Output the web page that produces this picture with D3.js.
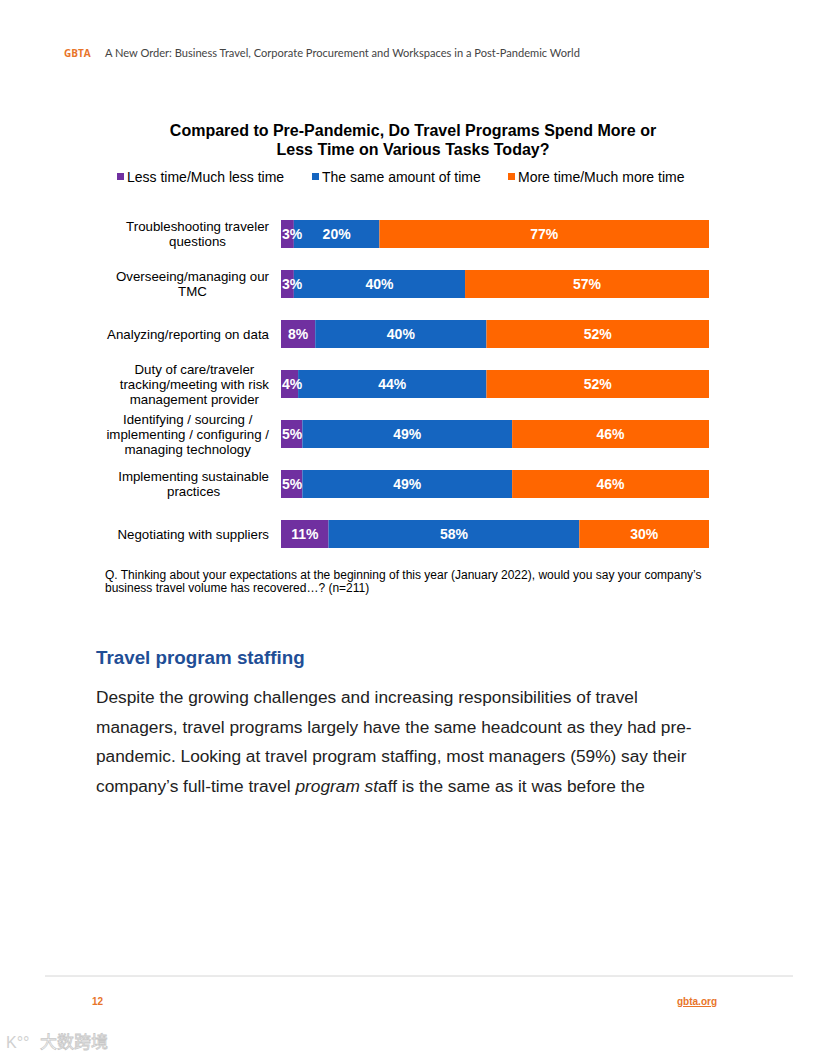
<!DOCTYPE html>
<html>
<head>
<meta charset="utf-8">
<script src="https://cdn.jsdelivr.net/npm/d3@7"></script>
<style>
  body { margin: 0; background: #fff; }
  svg { display: block; }
</style>
</head>
<body>
<svg id="page" width="816" height="1056"></svg>
<script>
const categories = [
  "Troubleshooting traveler\nquestions",
  "Overseeing/managing our\nTMC",
  "Analyzing/reporting on data",
  "Duty of care/traveler\ntracking/meeting with risk\nmanagement provider",
  "Identifying / sourcing /\nimplementing / configuring /\nmanaging technology",
  "Implementing sustainable\npractices",
  "Negotiating with suppliers",
];
const seriesNames = ["Less time/Much less time", "The same amount of time", "More time/Much more time"];
const lessTime = [3, 3, 8, 4, 5, 5, 11];
const sameTime = [20, 40, 40, 44, 49, 49, 58];
const moreTime = [77, 57, 52, 52, 46, 46, 30];
const seriesColors = ["#7030a0", "#1565c0", "#ff6600"];

const bodyLines = [
  "Despite the growing challenges and increasing responsibilities of travel",
  "managers, travel programs largely have the same headcount as they had pre-",
  "pandemic. Looking at travel program staffing, most managers (59%) say their",
];

const svg = d3.select("#page");
const sans = "'Liberation Sans', Arial, sans-serif";

// page header
svg.append("text").attr("x", 64).attr("y", 57)
  .attr("font-family", "'Open Sans', sans-serif").attr("font-weight", 700)
  .attr("font-size", 10).attr("fill", "#e8742a").text("GBTA");
svg.append("text").attr("x", 105).attr("y", 57)
  .attr("font-family", "Lato, sans-serif").attr("font-size", 11.1)
  .attr("fill", "#444").text("A New Order: Business Travel, Corporate Procurement and Workspaces in a Post-Pandemic World");

// chart title
const title = svg.append("text").attr("text-anchor", "middle")
  .attr("font-family", sans).attr("font-weight", 700).attr("font-size", 16).attr("fill", "#000");
title.append("tspan").attr("x", 413).attr("y", 136).text("Compared to Pre-Pandemic, Do Travel Programs Spend More or");
title.append("tspan").attr("x", 413).attr("y", 155).text("Less Time on Various Tasks Today?");

// legend
const legendX = [117, 312, 508];
const legend = svg.append("g").selectAll("g").data(seriesNames).enter().append("g")
  .attr("transform", (d, i) => `translate(${legendX[i]},177)`);
legend.append("rect").attr("y", -4).attr("width", 7).attr("height", 7)
  .attr("fill", (d, i) => seriesColors[i]);
legend.append("text").attr("x", 10).attr("y", 5)
  .attr("font-family", sans).attr("font-size", 14).attr("fill", "#000").text((d) => d);

// stacked bars (each row filled to 100%, as in the source chart)
const rows = categories.map((c, i) => ({ cat: c, vals: [lessTime[i], sameTime[i], moreTime[i]] }));
const x = d3.scaleLinear().domain([0, 1]).range([281, 709]);
const y = d3.scaleBand().domain(categories).range([209, 559]).paddingInner(0.44).paddingOuter(0.22);

const stack = d3.stack().keys([0, 1, 2]).value((d, k) => d.vals[k]).offset(d3.stackOffsetExpand);
const layers = stack(rows);

const plot = svg.append("g");
const barLayer = plot.append("g");
const labelLayer = plot.append("g");
layers.forEach((layer, k) => {
  barLayer.append("g").selectAll("rect").data(layer).enter().append("rect")
    .attr("x", (d) => x(d[0]))
    .attr("y", (d) => y(d.data.cat))
    .attr("width", (d) => x(d[1]) - x(d[0]))
    .attr("height", y.bandwidth())
    .attr("fill", seriesColors[k]);
  labelLayer.append("g").selectAll("text").data(layer).enter().append("text")
    .attr("y", (d) => y(d.data.cat) + y.bandwidth() / 2 + 5)
    .attr("text-anchor", "middle")
    .attr("font-family", sans).attr("font-weight", 700).attr("font-size", 14)
    .attr("fill", "#fff")
    .text((d) => `${d.data.vals[k]}%`)
    .attr("x", function (d) {
      const tw = this.getComputedTextLength();
      const cx = (x(d[0]) + x(d[1])) / 2;
      return Math.max(cx, x(0) + tw / 2 + 1);
    });
});

// category axis labels
const axisRight = 269;
categories.forEach((c) => {
  const lines = c.split("\n");
  const t = svg.append("text").attr("text-anchor", "middle")
    .attr("font-family", sans).attr("font-size", 13.3).attr("fill", "#000");
  const spans = lines.map((l) => t.append("tspan").text(l));
  const w = d3.max(spans, (s) => s.node().getComputedTextLength());
  const cx = axisRight - w / 2;
  const lh = 15;
  const cy = y(c) + y.bandwidth() / 2;
  spans.forEach((s, i) => s.attr("x", cx).attr("y", cy + 4.5 + (i - (lines.length - 1) / 2) * lh));
});

// footnote
const note = svg.append("text").attr("font-family", sans).attr("font-size", 12).attr("fill", "#000");
note.append("tspan").attr("x", 105).attr("y", 579)
  .text("Q. Thinking about your expectations at the beginning of this year (January 2022), would you say your company\u2019s");
note.append("tspan").attr("x", 105).attr("y", 592)
  .text("business travel volume has recovered\u2026? (n=211)");

// section heading
svg.append("text").attr("x", 96).attr("y", 664)
  .attr("font-family", sans).attr("font-weight", 700).attr("font-size", 18.8)
  .attr("fill", "#1f4e96").text("Travel program staffing");

// body text
const body = svg.append("text").attr("font-family", sans).attr("font-size", 17.3).attr("fill", "#222");
bodyLines.forEach((l, i) => body.append("tspan").attr("x", 96).attr("y", 703 + i * 29.7).text(l));
const last = body.append("tspan").attr("x", 96).attr("y", 703 + 3 * 29.7);
last.text("company\u2019s full-time travel ");
body.append("tspan").attr("font-style", "italic").text("program st");
body.append("tspan").text("aff is the same as it was before the");

// footer
svg.append("line").attr("x1", 45).attr("x2", 793).attr("y1", 976).attr("y2", 976)
  .attr("stroke", "#d6d6d6").attr("stroke-width", 1);
svg.append("text").attr("x", 92).attr("y", 1005)
  .attr("font-family", sans).attr("font-weight", 700).attr("font-size", 10)
  .attr("fill", "#e8742a").text("12");
svg.append("text").attr("x", 717).attr("y", 1005).attr("text-anchor", "end")
  .attr("font-family", sans).attr("font-weight", 700).attr("font-size", 10)
  .attr("fill", "#e8742a").attr("text-decoration", "underline").text("gbta.org");

// watermark
svg.append("text").attr("x", 6).attr("y", 1048)
  .attr("font-family", sans).attr("font-size", 16).attr("fill", "#d0d0d0").text("K\u00B0\u00B0");
svg.append("text").attr("x", 40).attr("y", 1048)
  .attr("font-family", "'Noto Sans CJK SC', sans-serif").attr("font-size", 17)
  .attr("fill", "none").attr("stroke", "#c8c8c8").attr("stroke-width", 0.8).text("大数跨境");
</script>
</body>
</html>
